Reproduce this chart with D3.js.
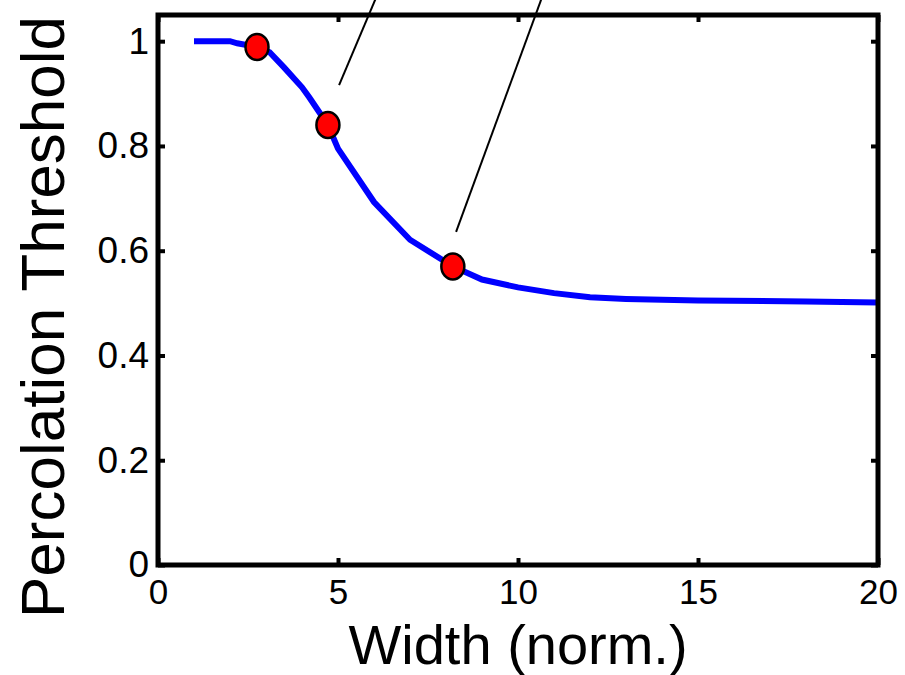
<!DOCTYPE html>
<html>
<head>
<meta charset="utf-8">
<script src="https://cdn.jsdelivr.net/npm/d3@7"></script>
<style>
  body { margin: 0; background: #fff; }
  text { font-family: "Liberation Sans", Arial, sans-serif; fill: #000; }
</style>
</head>
<body>
<div id="chart"></div>
<script>
// data
const widths = [1, 2, 2.2, 2.75, 3.1, 3.5, 4, 4.2, 4.72, 5, 6, 7, 8.19, 9, 10, 11, 12, 13, 15, 18, 20];
const thresholds = [1, 1, 0.996, 0.989, 0.979, 0.95, 0.912, 0.893, 0.84, 0.795, 0.693, 0.621, 0.57, 0.545, 0.53, 0.519, 0.511, 0.508, 0.505, 0.503, 0.501];

const markerWidths = [2.75, 4.72, 8.19];
const markerThresholds = [0.989, 0.84, 0.57];

// leader lines, start and end in data units, running off the top
const leaderFrom = [[5.03, 0.916], [8.28, 0.636]];
const leaderTo = [[6.1, 1.09], [10.7, 1.09]];

const xTicks = [0, 5, 10, 15, 20];
const yTicks = [0, 0.2, 0.4, 0.6, 0.8, 1];

const width = 905;
const height = 675;
const margin = { top: 15, right: 27, bottom: 110, left: 158 };

const svg = d3.select("#chart").append("svg").attr("width", width).attr("height", height);

const x = d3.scaleLinear().domain([0, 20]).range([margin.left, width - margin.right]);
const y = d3.scaleLinear().domain([0, 1.05]).range([height - margin.bottom, margin.top]);

// curve
const line = d3.line().x((d) => x(d[0])).y((d) => y(d[1]));
svg
  .append("path")
  .datum(widths.map((w, i) => [w, thresholds[i]]))
  .attr("d", line)
  .attr("fill", "none")
  .attr("stroke", "#0000ff")
  .attr("stroke-width", 6);

// leader lines
svg
  .selectAll("line.leader")
  .data(leaderFrom)
  .enter()
  .append("line")
  .attr("class", "leader")
  .attr("x1", (d) => x(d[0]))
  .attr("y1", (d) => y(d[1]))
  .attr("x2", (d, i) => x(leaderTo[i][0]))
  .attr("y2", (d, i) => y(leaderTo[i][1]))
  .attr("stroke", "#000")
  .attr("stroke-width", 2);

// markers
svg
  .selectAll("ellipse")
  .data(markerWidths)
  .enter()
  .append("ellipse")
  .attr("cx", (d) => x(d))
  .attr("cy", (d, i) => y(markerThresholds[i]))
  .attr("rx", 11.5)
  .attr("ry", 13)
  .attr("fill", "#ff0000")
  .attr("stroke", "#000")
  .attr("stroke-width", 2.5);

// axes box with inward ticks
const x0 = margin.left, x1 = width - margin.right;
const y0 = height - margin.bottom, y1 = margin.top;

const bottomAxis = d3.axisBottom(x).tickValues(xTicks).tickSize(-7).tickPadding(14).tickFormat(d3.format("d"));
const topAxis = d3.axisTop(x).tickValues(xTicks).tickSize(-7).tickFormat("");
const leftAxis = d3.axisLeft(y).tickValues(yTicks).tickSize(-7).tickPadding(9).tickFormat((d) => (d === 0 || d === 1 ? d3.format("d")(d) : d3.format(".1f")(d)));
const rightAxis = d3.axisRight(y).tickValues(yTicks).tickSize(-7).tickFormat("");

function styleAxis(g, size) {
  g.select(".domain").remove();
  g.selectAll(".tick line").attr("stroke", "#000").attr("stroke-width", 4);
  g.selectAll(".tick text").attr("font-size", size).attr("font-family", "Liberation Sans, Arial, sans-serif").attr("fill", "#000");
}

svg.append("g").attr("transform", `translate(0,${y0})`).call(bottomAxis).call(styleAxis, 35);
svg.append("g").attr("transform", `translate(0,${y1})`).call(topAxis).call(styleAxis, 35);
svg.append("g").attr("transform", `translate(${x0},0)`).call(leftAxis).call(styleAxis, 37);
svg.append("g").attr("transform", `translate(${x1},0)`).call(rightAxis).call(styleAxis, 35);

svg
  .append("rect")
  .attr("x", x0)
  .attr("y", y1)
  .attr("width", x1 - x0)
  .attr("height", y0 - y1)
  .attr("fill", "none")
  .attr("stroke", "#000")
  .attr("stroke-width", 5);

// axis titles
svg
  .append("text")
  .attr("x", x(10))
  .attr("y", 664)
  .attr("text-anchor", "middle")
  .attr("font-size", 56)
  .text("Width (norm.)");

svg
  .append("text")
  .attr("transform", "translate(64,317) rotate(-90)")
  .attr("text-anchor", "middle")
  .attr("font-size", 62)
  .text("Percolation Threshold");
</script>
</body>
</html>
